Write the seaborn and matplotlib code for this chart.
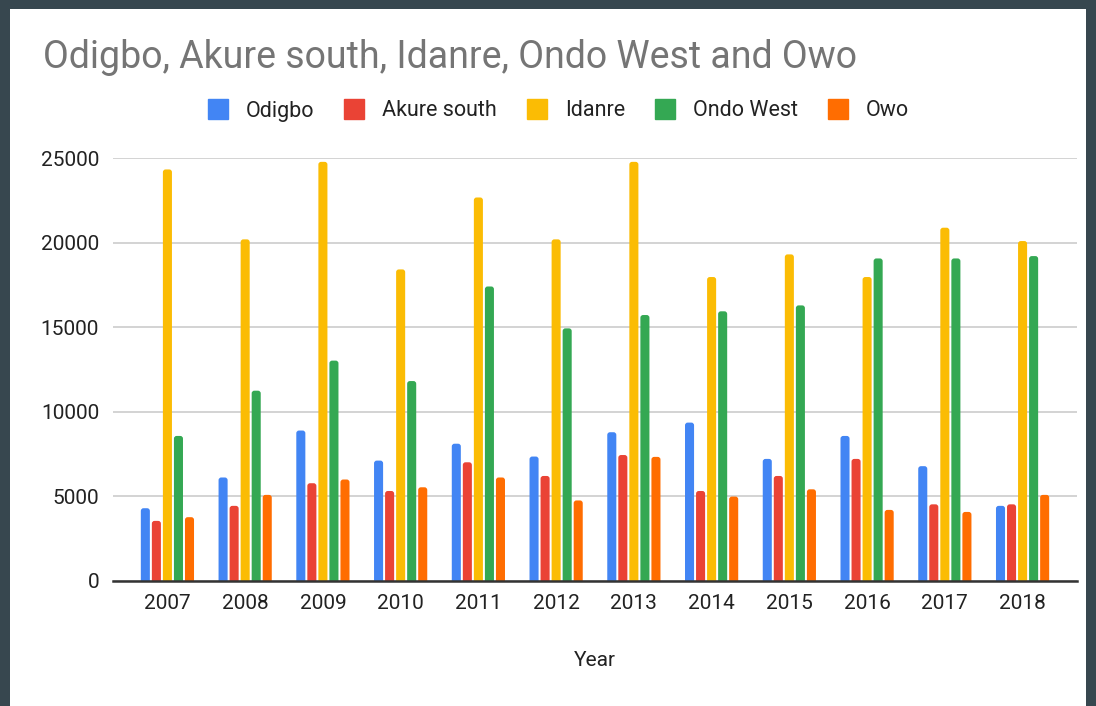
import matplotlib
matplotlib.use("Agg")
import matplotlib.pyplot as plt
import seaborn as sns
import pandas as pd
from matplotlib.patches import Rectangle, FancyBboxPatch
from matplotlib.lines import Line2D

years = ["2007", "2008", "2009", "2010", "2011", "2012", "2013", "2014", "2015", "2016", "2017", "2018"]
series_names = ["Odigbo", "Akure south", "Idanre", "Ondo West", "Owo"]
odigbo = [4280, 6100, 8880, 7100, 8100, 7340, 8780, 9350, 7200, 8560, 6770, 4420]
akure_south = [3530, 4420, 5760, 5300, 7000, 6190, 7430, 5300, 6190, 7200, 4510, 4510]
idanre = [24340, 20200, 24790, 18420, 22680, 20200, 24790, 17970, 19310, 17970, 20890, 20100]
ondo_west = [8560, 11240, 13020, 11810, 17410, 14930, 15720, 15940, 16290, 19070, 19070, 19210]
owo = [3750, 5070, 5980, 5520, 6100, 4740, 7320, 4970, 5400, 4180, 4060, 5070]
colors = ["#4285F4", "#EA4335", "#FBBC04", "#34A853", "#FF6D01"]

values = [odigbo, akure_south, idanre, ondo_west, owo]
rows = []
for name, vals in zip(series_names, values):
    for y, v in zip(years, vals):
        rows.append({"Year": y, "Series": name, "Value": v})
df = pd.DataFrame(rows)

sns.set_theme(style="white")
plt.rcParams["font.family"] = ["Roboto", "DejaVu Sans"]

fig = plt.figure(figsize=(10.96, 7.06), dpi=100)
fig.patch.set_facecolor("#37474F")
bg = Rectangle((10 / 1096, 0), 1076 / 1096, 1 - 9 / 706,
               transform=fig.transFigure, facecolor="white", edgecolor="none", zorder=-10)
fig.add_artist(bg)

ax = fig.add_axes([113 / 1096, 1 - 580.5 / 706, (1077 - 113) / 1096, (580.5 - 158.3) / 706])
ax.set_facecolor("none")

sns.barplot(data=df, x="Year", y="Value", hue="Series", order=years,
            hue_order=series_names, palette=colors, width=0.71, gap=0.18,
            saturation=1, ax=ax, legend=False, zorder=3, linewidth=0)

ax.set_ylim(0, 25000)
ax.set_xlim(-0.7, 11.7)

# round the bar tops (Google-chart style)
for p in list(ax.patches):
    x, w, h = p.get_x(), p.get_width(), p.get_height()
    fc = p.get_facecolor()
    p.remove()
    ax.add_patch(FancyBboxPatch((x, -400), w, h + 400,
                                boxstyle="round,pad=0,rounding_size=0.035",
                                mutation_aspect=4600, facecolor=fc,
                                edgecolor="none", zorder=3))

ax.set_yticks([0, 5000, 10000, 15000, 20000, 25000])
ax.set_yticklabels(["0", "5000", "10000", "15000", "20000", "25000"])
ax.grid(axis="y", color="#CCCCCC", linewidth=1.2, zorder=0)
ax.grid(axis="x", visible=False)
ax.set_axisbelow(True)
for s in ["top", "right", "left"]:
    ax.spines[s].set_visible(False)
ax.spines["bottom"].set_color("#333333")
ax.spines["bottom"].set_linewidth(1.8)
ax.spines["bottom"].set_zorder(5)
ax.tick_params(axis="both", length=0, labelsize=15, labelcolor="#222222", pad=10)
ax.set_xlabel("Year", fontsize=15, color="#222222", labelpad=27)
ax.set_ylabel("")

fig.text(43 / 1096, 1 - 58 / 706, "Odigbo, Akure south, Idanre, Ondo West and Owo",
         fontsize=27, color="#757575", ha="left", va="center")

handles = [Line2D([0], [0], marker="s", linestyle="none", markersize=14,
                  markerfacecolor=c, markeredgecolor=c) for c in colors]
fig.legend(handles, series_names, loc="center", bbox_to_anchor=(558 / 1096, 1 - 111 / 706),
           ncol=5, frameon=False, fontsize=15.5, handletextpad=0.8, columnspacing=1.35,
           labelcolor="#222222", handlelength=1.0)

fig.savefig("out.png", dpi=100, facecolor=fig.get_facecolor())
